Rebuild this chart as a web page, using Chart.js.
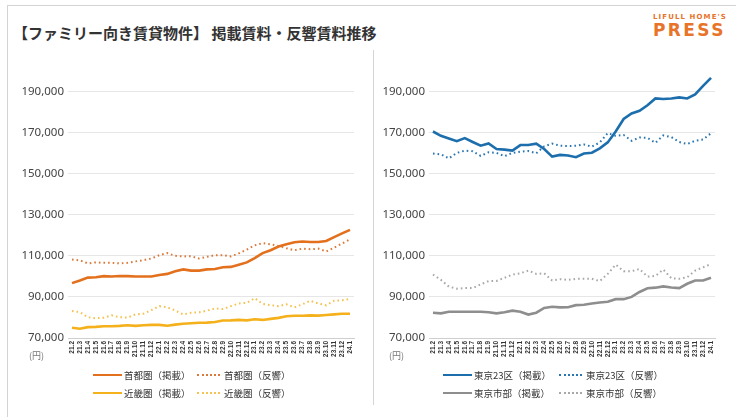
<!DOCTYPE html>
<html lang="ja">
<head>
<meta charset="UTF-8">
<title>ファミリー向き賃貸物件 賃料推移</title>
<script src="https://cdn.jsdelivr.net/npm/chart.js"></script>
<style>
    body {
        margin: 0;
        background: #fff;
        font-family: "Noto Sans CJK JP", "Noto Sans", sans-serif;
        color: #333;
    }
    #page {
        position: relative;
        width: 736px;
        height: 417px;
        overflow: hidden;
    }
    .rule { position: absolute; background: #d4d4d4; }
    #title {
        position: absolute;
        left: 13px;
        top: 23px;
        font-size: 15px;
        line-height: 20px;
        font-weight: 700;
        color: #333;
        white-space: nowrap;
    }
    #logo {
        position: absolute;
        left: 653px;
        top: 13px;
        color: #e8742a;
        font-family: "DejaVu Sans", sans-serif;
        font-weight: 700;
    }
    #logo .small { font-size: 7px; letter-spacing: 1.1px; line-height: 9px; }
    #logo .big { font-size: 17px; letter-spacing: 2.4px; line-height: 17px; font-weight: 900; }
    canvas { position: absolute; }
    .unit {
        position: absolute;
        top: 349px;
        font-size: 9px;
        color: #777;
    }
    .leg {
        position: absolute;
        font-size: 9.5px;
        line-height: 12px;
        white-space: nowrap;
        color: #333;
    }
    .swatch {
        position: absolute;
        height: 0;
    }
</style>
</head>
<body>
<div id="page">
    <div class="rule" style="left:7px; top:5px; width:729px; height:1px;"></div>
    <div class="rule" style="left:7px; top:5px; width:1px; height:412px;"></div>
    <div class="rule" style="left:373px; top:50px; width:1px; height:355px;"></div>

    <div id="title">【ファミリー向き賃貸物件】 掲載賃料・反響賃料推移</div>
    <div id="logo"><div class="small">LIFULL HOME'S</div><div class="big">PRESS</div></div>

    <canvas id="leftChart" width="360" height="302" style="left:0px; top:60px;"></canvas>
    <canvas id="rightChart" width="360" height="302" style="left:361px; top:60px;"></canvas>

    <div class="unit" style="left:29px;">(円)</div>
    <div class="unit" style="left:389px;">(円)</div>

    <div id="legends"></div>
</div>

<script>
// month labels (yy.m)
const months = ['21.2','21.3','21.4','21.5','21.6','21.7','21.8','21.9','21.10','21.11','21.12',
    '22.1','22.2','22.3','22.4','22.5','22.6','22.7','22.8','22.9','22.10','22.11','22.12',
    '23.1','23.2','23.3','23.4','23.5','23.6','23.7','23.8','23.9','23.10','23.11','23.12','24.1'];

const yTicks = [70000, 90000, 110000, 130000, 150000, 170000, 190000];

// 首都圏
const shutoListed = [96700, 98000, 99400, 99600, 100100, 99900, 100200, 100100, 99900, 99900, 99900, 100700,
    101200, 102500, 103400, 102800, 102800, 103400, 103600, 104400, 104600, 105700, 106800, 108900,
    111300, 112700, 114500, 115600, 116600, 117000, 116700, 116700, 117200, 119100, 120900, 122600];
const shutoInquiry = [108200, 107800, 106300, 106800, 106600, 106600, 106300, 106600, 107300, 107900, 108700, 110300,
    111300, 110000, 109700, 109800, 108700, 109500, 110300, 110300, 109700, 111200, 113000, 115100,
    116200, 115600, 114800, 113700, 112700, 113500, 113200, 113500, 112100, 114000, 116000, 118000];

// 近畿圏
const kinkiListed = [75000, 74500, 75300, 75400, 75700, 75700, 75900, 76200, 75900, 76200, 76400, 76400,
    76000, 76500, 76900, 77200, 77400, 77500, 77800, 78500, 78600, 78800, 78600, 79100,
    78800, 79300, 79800, 80600, 80800, 80800, 81000, 80900, 81200, 81500, 81800, 81800];
const kinkiInquiry = [83100, 82600, 80100, 79600, 79900, 81000, 80100, 79900, 81500, 81800, 83600, 85500,
    84900, 83400, 81500, 82300, 82500, 83300, 84400, 84100, 85500, 86800, 87100, 89400,
    86600, 86000, 85500, 86400, 84900, 86400, 88100, 86800, 85900, 88100, 88400, 89000];

// 東京23区
const tokyo23Listed = [170500, 168400, 167100, 165800, 167300, 165400, 163600, 164700, 162000, 161700, 161200, 163900,
    163900, 164600, 162000, 158300, 159100, 158800, 158000, 159800, 160200, 162300, 165200, 170500,
    176600, 179300, 180600, 183300, 186600, 186300, 186600, 187100, 186600, 188600, 192700, 196600];
const tokyo23Inquiry = [159800, 159400, 157400, 160100, 161200, 160900, 158600, 160400, 160100, 158500, 160100, 160700,
    161000, 159900, 163300, 164600, 163600, 163400, 163600, 164200, 163100, 165200, 169700, 168400,
    168800, 166000, 167600, 167400, 165000, 168600, 167800, 165400, 164400, 166000, 166600, 169700];

// 東京市部
const tamaListed = [82300, 82000, 82800, 82800, 82800, 82800, 82800, 82500, 82000, 82500, 83300, 82800,
    81400, 82300, 84600, 85200, 84900, 85000, 86000, 86200, 86800, 87300, 87600, 88900,
    88900, 90000, 92400, 94200, 94500, 95100, 94600, 94300, 96400, 98000, 98000, 99300];
const tamaInquiry = [100900, 98300, 95000, 94000, 94300, 94300, 96100, 97700, 97800, 99300, 100900, 101500,
    102800, 101200, 101500, 98000, 98600, 98300, 98800, 98800, 98800, 97700, 101200, 105700,
    102500, 102500, 103600, 99900, 100200, 103300, 99100, 98800, 99600, 102800, 104400, 106000];

const leftSeries = [
    { label: '首都圏（掲載）', data: shutoListed, color: '#e2701d', dotted: false },
    { label: '首都圏（反響）', data: shutoInquiry, color: '#d9793a', dotted: true },
    { label: '近畿圏（掲載）', data: kinkiListed, color: '#f4b11c', dotted: false },
    { label: '近畿圏（反響）', data: kinkiInquiry, color: '#f5c14f', dotted: true }
];
const rightSeries = [
    { label: '東京23区（掲載）', data: tokyo23Listed, color: '#1c6ead', dotted: false },
    { label: '東京23区（反響）', data: tokyo23Inquiry, color: '#2a76b2', dotted: true },
    { label: '東京市部（掲載）', data: tamaListed, color: '#8e8e8e', dotted: false },
    { label: '東京市部（反響）', data: tamaInquiry, color: '#a8a8a8', dotted: true }
];

function createChart(canvasId, series) {
    const datasets = series.map(s => ({
        label: s.label,
        data: s.data,
        borderColor: s.color,
        backgroundColor: s.color,
        borderWidth: s.dotted ? 2 : 2.6,
        borderDash: s.dotted ? [1.6, 3] : [],
        pointRadius: 0,
        tension: 0,
        fill: false
    }));
    // draw solid lines on top
    datasets.reverse();

    new Chart(document.getElementById(canvasId), {
        type: 'line',
        data: { labels: months, datasets: datasets },
        options: {
            responsive: false,
            devicePixelRatio: 1,
            animation: false,
            layout: { padding: { top: 7, right: 6, bottom: 0, left: 0 } },
            plugins: { legend: { display: false }, tooltip: { enabled: false } },
            scales: {
                x: {
                    offset: true,
                    grid: { display: false, drawTicks: false },
                    border: { display: true, color: '#cfcfcf', dash: [2, 1] },
                    ticks: {
                        autoSkip: false,
                        minRotation: 90,
                        maxRotation: 90,
                        padding: 3,
                        color: '#333',
                        font: { size: 6.5, weight: 'bold', family: 'Liberation Sans' }
                    },
                    afterFit: function(scale) {
                        scale.height = 24;
                        scale.paddingLeft = 0;
                        scale.paddingRight = 0;
                    }
                },
                y: {
                    min: 70000,
                    max: 200000,
                    border: { display: false },
                    grid: {
                        drawTicks: false,
                        color: ctx => (ctx.tick && ctx.tick.value === 70000) ? 'rgba(0,0,0,0)' : '#e6e6e6'
                    },
                    ticks: {
                        padding: 4,
                        color: '#444',
                        font: { size: 11.5, family: 'Noto Sans' },
                        callback: v => v.toLocaleString('en-US')
                    },
                    afterBuildTicks: function(scale) {
                        scale.ticks = yTicks.map(v => ({ value: v }));
                    },
                    afterFit: function(scale) {
                        scale.width = 68;
                    }
                }
            }
        }
    });
}

function addLegend(series, left, widths) {
    const box = document.getElementById('legends');
    series.forEach((s, i) => {
        const col = i % 2, row = Math.floor(i / 2);
        const x = left + (col === 0 ? 0 : widths);
        const y = 375 + row * 18;
        const sw = document.createElement('div');
        sw.className = 'swatch';
        sw.style.left = x + 'px';
        sw.style.top = (y - (s.dotted ? 1 : 1.3)) + 'px';
        sw.style.width = (s.dotted ? 23 : 29) + 'px';
        sw.style.borderTop = s.dotted ? ('2px dotted ' + s.color) : ('2.6px solid ' + s.color);
        box.appendChild(sw);
        const t = document.createElement('div');
        t.className = 'leg';
        t.textContent = s.label;
        t.style.left = (x + (s.dotted ? 27 : 31)) + 'px';
        t.style.top = (y - 6) + 'px';
        box.appendChild(t);
    });
}

createChart('leftChart', leftSeries);
createChart('rightChart', rightSeries);
addLegend(leftSeries, 93, 104);
addLegend(rightSeries, 443, 116);
</script>
</body>
</html>
